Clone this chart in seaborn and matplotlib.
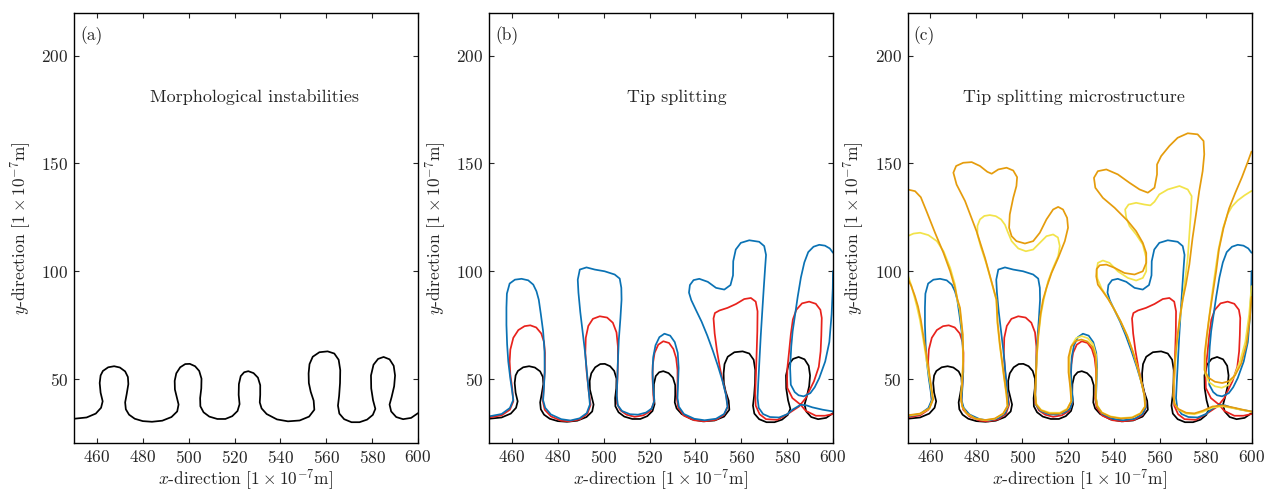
import matplotlib

matplotlib.use("Agg")
import matplotlib.pyplot as plt
import seaborn as sns

# interface contours, in units of 1e-7 m
black_x = [450.0, 455.5, 459.5, 461.8, 462.5, 461.6, 461.2, 461.6, 462.6, 464.9, 467.5, 470.0, 472.3, 473.5, 473.7,
           473.0, 472.3, 472.6, 474.0, 476.5, 480.0, 484.0, 488.5, 492.5, 495.0, 495.6, 494.8, 494.0, 493.9, 494.6,
           496.3, 498.5, 500.5, 502.8, 504.6, 505.6, 505.5, 505.0, 505.1, 506.5, 509.0, 512.5, 516.0, 519.0, 521.3,
           522.2, 521.8, 521.9, 522.7, 524.2, 526.0, 528.3, 530.2, 531.2, 531.2, 531.0, 531.8, 534.0, 538.5, 543.3,
           548.4, 552.5, 554.8, 554.5, 553.2, 552.4, 552.3, 552.7, 554.1, 557.0, 560.6, 563.5, 565.4, 566.1, 566.0,
           565.6, 565.1, 565.7, 567.8, 571.0, 574.5, 577.8, 580.3, 581.4, 580.4, 579.6, 579.5, 580.6, 582.6, 585.0,
           587.6, 589.4, 590.0, 589.6, 588.5, 587.6, 588.3, 590.5, 593.5, 597.0, 600.0]
black_y = [31.4, 32.0, 33.8, 36.5, 39.5, 43.5, 48.0, 51.5, 53.6, 55.3, 55.8, 55.2, 53.4, 50.8, 47.5,
           43.0, 39.0, 35.8, 33.3, 31.4, 30.3, 30.0, 30.5, 32.2, 34.8, 38.0, 41.5, 45.0, 49.0, 52.5,
           55.3, 56.8, 56.9, 55.8, 53.6, 50.0, 45.5, 41.0, 37.2, 34.4, 32.4, 31.3, 31.3, 32.6, 35.0,
           38.2, 42.5, 47.5, 51.2, 53.0, 53.5, 52.6, 50.5, 47.0, 42.5, 39.0, 36.2, 33.6, 31.1, 30.2,
           30.6, 32.4, 35.6, 39.8, 44.0, 48.0, 52.5, 56.8, 60.2, 62.3, 62.7, 61.7, 58.8, 54.0, 48.0,
           42.0, 37.5, 33.8, 31.2, 29.8, 29.8, 31.0, 33.2, 36.0, 40.0, 45.5, 51.5, 56.5, 59.2, 60.1,
           59.0, 56.0, 51.5, 46.5, 41.5, 38.0, 34.8, 32.2, 31.2, 31.8, 34.0]

red_x = [450.0, 455.5, 459.1, 460.6, 460.1, 459.3, 459.0, 459.3, 460.6, 462.8, 465.5, 468.0, 470.6, 472.8, 474.0,
         474.4, 474.3, 473.8, 473.5, 474.3, 477.0, 481.5, 485.2, 489.6, 492.9, 494.3, 493.5, 492.6, 492.0, 492.2,
         493.3, 495.3, 498.3, 501.5, 504.0, 505.6, 506.2, 506.2, 506.0, 505.7, 505.8, 507.3, 510.0, 513.5, 517.3,
         520.4, 521.9, 521.6, 521.3, 521.4, 522.2, 523.8, 526.0, 528.5, 530.4, 531.6, 532.2, 532.2, 531.9, 532.5,
         535.0, 539.5, 544.0, 549.0, 552.5, 554.1, 553.4, 552.0, 550.7, 549.4, 548.4, 547.9, 548.5, 550.5, 554.0,
         557.7, 561.3, 564.2, 566.3, 567.1, 567.0, 566.7, 566.4, 566.1, 566.3, 568.0, 570.8, 575.8, 580.8, 585.2,
         588.1, 591.7, 593.8, 594.6, 594.9, 595.1, 594.5, 592.5, 589.6, 586.5, 584.0, 582.5, 581.6, 580.8, 580.1,
         580.0, 580.1, 582.3, 585.9, 588.1, 592.5, 596.5, 600.0]
red_y = [32.0, 33.0, 35.6, 39.5, 45.7, 52.0, 58.0, 63.5, 69.0, 72.6, 74.4, 74.8, 73.8, 71.0, 67.0,
         62.0, 53.4, 45.0, 39.5, 35.6, 32.5, 30.5, 30.2, 31.1, 33.7, 37.9, 44.1, 53.0, 62.0, 69.0,
         74.5, 77.8, 79.0, 78.4, 76.0, 71.5, 65.0, 58.0, 50.0, 43.0, 38.5, 35.3, 33.3, 32.3, 33.0,
         35.0, 38.8, 44.0, 50.0, 56.5, 62.0, 65.8, 67.4, 66.6, 63.8, 59.6, 54.0, 47.0, 41.0, 36.6,
         32.8, 30.7, 30.2, 30.9, 33.2, 37.0, 42.5, 48.5, 55.0, 63.0, 71.0, 78.0, 80.5, 81.7, 82.9,
         84.7, 87.0, 87.5, 85.8, 81.3, 72.0, 62.0, 52.0, 43.0, 37.5, 33.5, 31.2, 30.9, 34.0, 37.1,
         41.0, 48.8, 55.5, 62.7, 70.0, 78.2, 82.0, 84.8, 85.8, 85.0, 82.0, 77.5, 70.5, 62.0, 55.0,
         50.0, 45.7, 41.0, 37.9, 35.1, 32.8, 32.8, 33.6]

blue_x = [450.0, 455.5, 459.1, 460.6, 460.0, 459.3, 458.4, 457.9, 457.6, 457.6, 457.8, 459.0, 461.3, 464.2, 467.1,
          469.3, 470.7, 471.7, 472.6, 473.6, 474.2, 474.3, 473.9, 473.6, 474.5, 477.0, 481.5, 485.5, 489.5, 492.6,
          494.0, 493.5, 492.7, 491.8, 490.8, 489.8, 489.0, 488.7, 489.6, 492.5, 496.1, 500.4, 504.8, 507.0, 507.7,
          507.8, 507.3, 506.6, 506.2, 505.9, 505.7, 506.2, 508.0, 511.5, 515.0, 518.5, 521.0, 522.1, 521.6, 521.3,
          521.6, 522.6, 524.3, 526.5, 529.0, 531.0, 532.3, 532.7, 532.4, 532.2, 532.8, 535.0, 539.5, 544.0, 549.0,
          552.5, 554.0, 553.3, 551.8, 549.8, 547.6, 545.2, 542.7, 540.2, 538.2, 537.2, 537.6, 539.2, 541.7, 545.4,
          549.0, 552.6, 555.3, 556.4, 556.5, 557.6, 559.8, 563.5, 567.8, 570.0, 570.8, 570.4, 569.8, 569.2, 568.5,
          567.9, 567.4, 567.1, 567.6, 569.5, 572.5, 576.5, 580.0, 582.3, 585.9, 588.5, 591.0, 595.5, 600.0]
blue_y = [32.5, 33.6, 36.4, 40.2, 45.0, 50.0, 58.0, 66.0, 75.0, 83.0, 89.5, 94.2, 96.0, 96.4, 95.7,
          93.7, 90.6, 86.7, 80.0, 72.0, 63.0, 53.0, 45.0, 40.0, 36.5, 33.4, 31.2, 30.6, 31.6, 34.0,
          38.0, 44.0, 53.0, 63.0, 72.0, 81.0, 90.0, 96.0, 100.7, 101.7, 100.7, 99.9, 98.4, 96.5, 92.2,
          86.7, 78.0, 68.0, 58.0, 48.0, 42.0, 37.6, 35.0, 33.5, 33.3, 34.3, 36.2, 40.0, 46.0, 53.0,
          60.0, 65.5, 69.3, 70.9, 70.0, 67.0, 62.0, 55.0, 47.0, 41.0, 37.0, 33.6, 31.4, 30.7, 31.4,
          33.6, 37.0, 42.5, 49.0, 56.0, 63.0, 70.0, 76.5, 82.0, 86.5, 90.0, 93.5, 95.8, 96.4, 95.0,
          92.2, 91.4, 93.5, 98.0, 104.6, 110.0, 113.1, 114.3, 113.6, 111.6, 107.5, 101.5, 92.0, 82.0, 70.0,
          58.0, 48.0, 41.0, 36.5, 33.6, 32.2, 32.0, 33.5, 35.6, 37.9, 37.6, 36.7, 35.6, 34.8]

blue_tip_x = [600.0, 599.9, 599.4, 598.4, 596.6, 594.0, 592.0, 590.1, 587.2, 585.0, 583.3, 581.6, 581.3, 581.8,
              582.4, 583.5, 584.6, 586.0, 587.5, 589.2, 591.5, 594.0, 596.5, 598.6, 600.0]
blue_tip_y = [100.0, 92.0, 80.0, 67.0, 58.0, 50.3, 46.0, 43.3, 41.8, 42.3, 43.8, 47.2, 55.0, 65.0,
              72.0, 80.0, 88.0, 97.0, 104.0, 108.8, 111.3, 112.2, 111.8, 110.5, 108.5]

yellow_left_x = [450.0, 455.5, 459.5, 461.0, 460.2, 459.0, 457.8, 456.6, 455.4, 454.1, 452.9, 451.6, 450.0]
yellow_left_y = [32.8, 33.6, 36.1, 40.4, 46.0, 54.0, 62.0, 70.0, 77.4, 83.5, 88.5, 93.5, 98.6]

yellow_x = [450.0, 452.6, 455.5, 459.1, 462.8, 465.7, 468.6, 470.7, 471.7, 472.8, 474.0, 474.2, 473.7, 473.2, 473.9,
            475.8, 479.4, 483.8, 488.1, 491.7, 493.6, 493.1, 491.9, 490.2, 489.2, 488.7, 486.6, 484.2, 481.9, 480.5,
            480.5, 481.6, 483.5, 485.9, 488.5, 490.8, 492.5, 493.7, 495.4, 498.3, 501.6, 504.8, 507.7, 510.6, 513.5,
            515.6, 516.4, 515.7, 513.5, 511.3, 509.4, 508.2, 507.1, 506.4, 506.1, 505.7, 506.2, 508.3, 512.0, 516.4,
            519.6, 521.5, 521.1, 520.5, 520.6, 521.6, 523.5, 526.0, 528.6, 530.9, 532.2, 532.5, 532.3, 532.1, 532.8,
            534.8, 538.5, 543.0, 548.0, 551.6, 553.6, 553.3, 552.3, 550.4, 548.3, 545.8, 543.0, 540.0, 537.3, 534.6,
            532.8, 532.5, 533.0, 535.2, 538.1, 541.7, 546.1, 549.7, 552.6, 554.1, 554.1, 552.6, 549.7, 546.8, 545.4,
            544.9, 546.4, 549.7, 553.3, 555.9, 557.7, 559.8, 563.5, 568.6, 572.2, 573.9, 573.6, 572.9, 572.2, 571.0,
            570.0, 568.8, 567.6, 566.8, 566.2, 566.0, 566.5, 568.2, 571.5, 575.1, 578.7, 583.0, 587.4, 592.5, 597.5,
            600.0]
yellow_y = [116.2, 117.4, 117.8, 116.7, 113.9, 109.2, 101.5, 93.7, 86.7, 82.0, 70.5, 58.1, 47.2, 41.0, 37.0,
            33.8, 31.5, 30.7, 31.4, 33.7, 37.2, 42.6, 51.9, 65.8, 76.0, 86.7, 95.0, 104.0, 111.5, 117.0,
            121.0, 124.0, 125.6, 126.0, 125.5, 124.0, 121.5, 118.2, 113.9, 110.5, 109.2, 110.0, 113.1, 116.2, 117.0,
            115.6, 111.6, 106.9, 101.5, 95.3, 86.7, 80.0, 70.0, 60.0, 51.9, 43.0, 38.2, 35.5, 34.2, 34.2,
            36.0, 39.7, 45.7, 53.0, 60.0, 65.5, 68.8, 69.8, 68.8, 66.0, 61.0, 54.0, 47.0, 41.5, 37.4,
            34.3, 32.5, 31.7, 32.1, 34.0, 37.2, 42.0, 47.0, 55.0, 62.5, 70.0, 76.5, 82.5, 87.5, 92.0,
            96.5, 100.5, 103.8, 104.9, 103.8, 99.9, 96.8, 95.6, 96.8, 99.9, 106.1, 112.3, 117.0, 120.9, 124.7,
            128.6, 130.9, 131.7, 130.9, 130.5, 132.2, 135.6, 137.9, 139.5, 137.9, 134.8, 127.8, 117.0, 106.1, 95.3,
            86.7, 78.0, 68.0, 58.0, 48.0, 42.0, 38.3, 35.6, 33.8, 33.5, 34.6, 36.6, 37.2, 36.2, 35.1,
            34.6]

yellow_tip_x = [600.0, 599.0, 597.3, 595.0, 592.3, 589.8, 587.0, 584.0, 581.4, 579.8, 579.7, 580.6, 581.7, 582.9,
                584.2, 585.6, 587.6, 589.6, 591.5, 594.0, 597.0, 600.0]
yellow_tip_y = [93.0, 80.0, 67.0, 58.0, 50.8, 47.0, 45.8, 46.5, 48.5, 52.5, 60.0, 70.0, 80.0, 90.0,
                100.0, 110.0, 120.0, 126.5, 130.0, 132.8, 135.2, 137.2]

orange_left_x = [450.0, 455.5, 459.6, 461.2, 460.4, 459.3, 458.1, 456.9, 455.8, 454.6, 453.2, 451.6, 450.0]
orange_left_y = [33.0, 33.8, 36.3, 40.4, 46.0, 54.0, 62.0, 70.0, 77.4, 83.5, 88.5, 93.2, 96.5]

orange_x = [450.0, 453.3, 455.8, 458.4, 462.0, 465.7, 468.6, 470.7, 471.8, 472.9, 474.1, 474.3, 473.8, 473.3, 473.9,
            475.8, 479.4, 483.8, 488.1, 491.7, 493.6, 493.2, 492.0, 490.3, 489.3, 488.8, 483.8, 480.1, 475.1, 471.4,
            470.0, 471.2, 474.3, 478.0, 481.6, 484.8, 486.7, 489.6, 493.2, 496.1, 497.8, 497.5, 496.1, 494.6, 494.3,
            495.4, 497.5, 501.2, 504.8, 507.7, 510.6, 513.5, 515.7, 517.8, 519.6, 520.0, 518.6, 515.7, 512.8, 510.6,
            509.1, 508.0, 507.0, 506.3, 506.0, 505.6, 506.1, 508.2, 512.0, 516.4, 519.6, 521.4, 521.0, 520.2, 520.2,
            521.3, 523.3, 525.8, 528.4, 530.7, 532.0, 532.4, 532.2, 532.0, 532.7, 534.7, 538.5, 543.0, 548.0, 551.6,
            553.6, 553.3, 552.3, 550.4, 548.3, 545.8, 543.0, 540.0, 537.5, 535.2, 533.0, 532.3, 532.5, 533.8, 536.7,
            540.3, 544.6, 549.0, 552.6, 554.1, 554.1, 552.6, 549.7, 546.1, 540.3, 535.2, 531.9, 531.3, 533.0, 536.7,
            541.7, 546.8, 551.2, 554.8, 557.7, 558.8, 558.8, 560.6, 564.2, 567.8, 572.2, 576.5, 579.1, 579.4, 578.7,
            577.2, 575.8, 574.3, 572.9, 571.4, 570.0, 568.7, 567.5, 566.6, 566.0, 565.9, 566.4, 568.0, 571.5, 575.1,
            578.7, 583.0, 587.4, 592.5, 597.5, 600.0]
orange_y = [137.9, 137.1, 134.3, 127.5, 117.8, 108.4, 99.9, 92.2, 86.7, 82.9, 70.5, 58.1, 47.2, 41.0, 37.1,
            34.0, 31.6, 30.8, 31.5, 33.8, 37.3, 42.6, 51.9, 65.8, 76.0, 86.7, 106.1, 118.5, 132.5, 140.2,
            145.7, 148.8, 150.3, 150.6, 148.8, 146.1, 145.2, 147.2, 148.0, 146.7, 143.6, 139.5, 134.0, 126.3, 120.1,
            116.2, 113.9, 112.8, 113.9, 117.8, 124.0, 128.6, 129.8, 128.6, 124.7, 120.1, 113.9, 106.1, 99.1, 92.2,
            86.7, 80.0, 70.0, 60.0, 51.9, 43.0, 38.0, 35.3, 33.8, 33.8, 35.7, 39.5, 45.7, 53.0, 60.0,
            64.8, 67.5, 68.2, 67.3, 64.8, 60.5, 54.0, 47.0, 41.5, 37.3, 34.2, 32.3, 31.5, 31.9, 33.8,
            37.0, 42.0, 47.0, 55.0, 62.5, 70.0, 76.5, 82.5, 87.0, 90.5, 93.7, 97.5, 101.0, 102.7, 103.0,
            101.5, 99.1, 98.4, 99.9, 103.8, 108.4, 113.1, 118.5, 123.2, 129.4, 134.0, 138.7, 143.3, 146.4, 147.2,
            144.9, 141.0, 137.9, 136.4, 138.7, 144.9, 149.5, 153.4, 158.1, 161.9, 164.0, 163.5, 160.4, 154.2, 146.4,
            137.1, 126.3, 115.4, 103.0, 93.7, 86.7, 78.0, 68.0, 58.0, 48.0, 42.0, 38.5, 36.0, 34.2, 33.9,
            35.1, 37.1, 37.6, 36.5, 35.3, 34.8]

orange_tip_x = [600.0, 599.3, 597.8, 595.5, 592.8, 590.0, 587.2, 584.0, 581.2, 579.5, 579.6, 580.5, 581.5, 582.6,
                583.6, 584.6, 585.8, 587.8, 590.2, 593.0, 595.8, 598.3, 600.0]
orange_tip_y = [88.0, 78.0, 66.0, 57.0, 51.5, 48.8, 48.0, 48.6, 50.5, 54.0, 62.0, 70.0, 78.0, 86.0,
                93.0, 100.0, 110.0, 120.0, 129.0, 136.5, 143.5, 150.5, 155.5]

panel_tags = ["(a)", "(b)", "(c)"]
panel_titles = ["Morphological instabilities", "Tip splitting", "Tip splitting microstructure"]
title_x = [0.526, 0.547, 0.485]
x_ticks = [460, 480, 500, 520, 540, 560, 580, 600]
y_ticks = [50, 100, 150, 200]

BLACK = "#000000"
RED = "#e8221c"
BLUE = "#0a72b4"
YELLOW = "#f2e34a"
ORANGE = "#e59c0c"

sns.set_style("ticks")
plt.rcParams.update({
    "font.family": "serif",
    "font.serif": ["cmr10", "DejaVu Serif"],
    "mathtext.fontset": "cm",
    "axes.formatter.use_mathtext": True,
    "font.size": 12.5,
    "xtick.direction": "in",
    "ytick.direction": "in",
    "xtick.top": True,
    "ytick.right": True,
    "axes.linewidth": 1.0,
    "axes.edgecolor": "black",
    "lines.solid_joinstyle": "round",
    "lines.solid_capstyle": "round",
})

panel_curves = [
    [(black_x, black_y, BLACK)],
    [(black_x, black_y, BLACK), (red_x, red_y, RED), (blue_x, blue_y, BLUE), (blue_tip_x, blue_tip_y, BLUE)],
    [(black_x, black_y, BLACK), (red_x, red_y, RED), (blue_x, blue_y, BLUE), (blue_tip_x, blue_tip_y, BLUE),
     (yellow_left_x, yellow_left_y, YELLOW), (yellow_x, yellow_y, YELLOW), (yellow_tip_x, yellow_tip_y, YELLOW),
     (orange_left_x, orange_left_y, ORANGE), (orange_x, orange_y, ORANGE), (orange_tip_x, orange_tip_y, ORANGE)],
]

fig = plt.figure(figsize=(12.75, 4.93), dpi=100)
lefts = [74 / 1275, 489 / 1275, 907.5 / 1275]
width = 344 / 1275
bottom = 49.7 / 493
height = 430.6 / 493

for i, curves in enumerate(panel_curves):
    ax = fig.add_axes([lefts[i], bottom, width, height])
    for xs, ys, color in curves:
        sns.lineplot(x=xs, y=ys, sort=False, estimator=None, color=color, linewidth=1.25, ax=ax)
    ax.set_xlim(450, 600)
    ax.set_ylim(20, 220)
    ax.set_xticks(x_ticks)
    ax.set_yticks(y_ticks)
    ax.set_xlabel(r"$x$-direction [$1\times10^{-7}$m]", labelpad=1)
    ax.set_ylabel(r"$y$-direction [$1\times10^{-7}$m]", labelpad=6)
    ax.text(0.018, 0.946, panel_tags[i], transform=ax.transAxes, ha="left", va="center")
    ax.text(title_x[i], 0.804, panel_titles[i], transform=ax.transAxes, ha="center", va="center", fontsize=13)
    ax.tick_params(length=3.5, width=0.8, pad=4)

fig.savefig("out.png", dpi=100)
